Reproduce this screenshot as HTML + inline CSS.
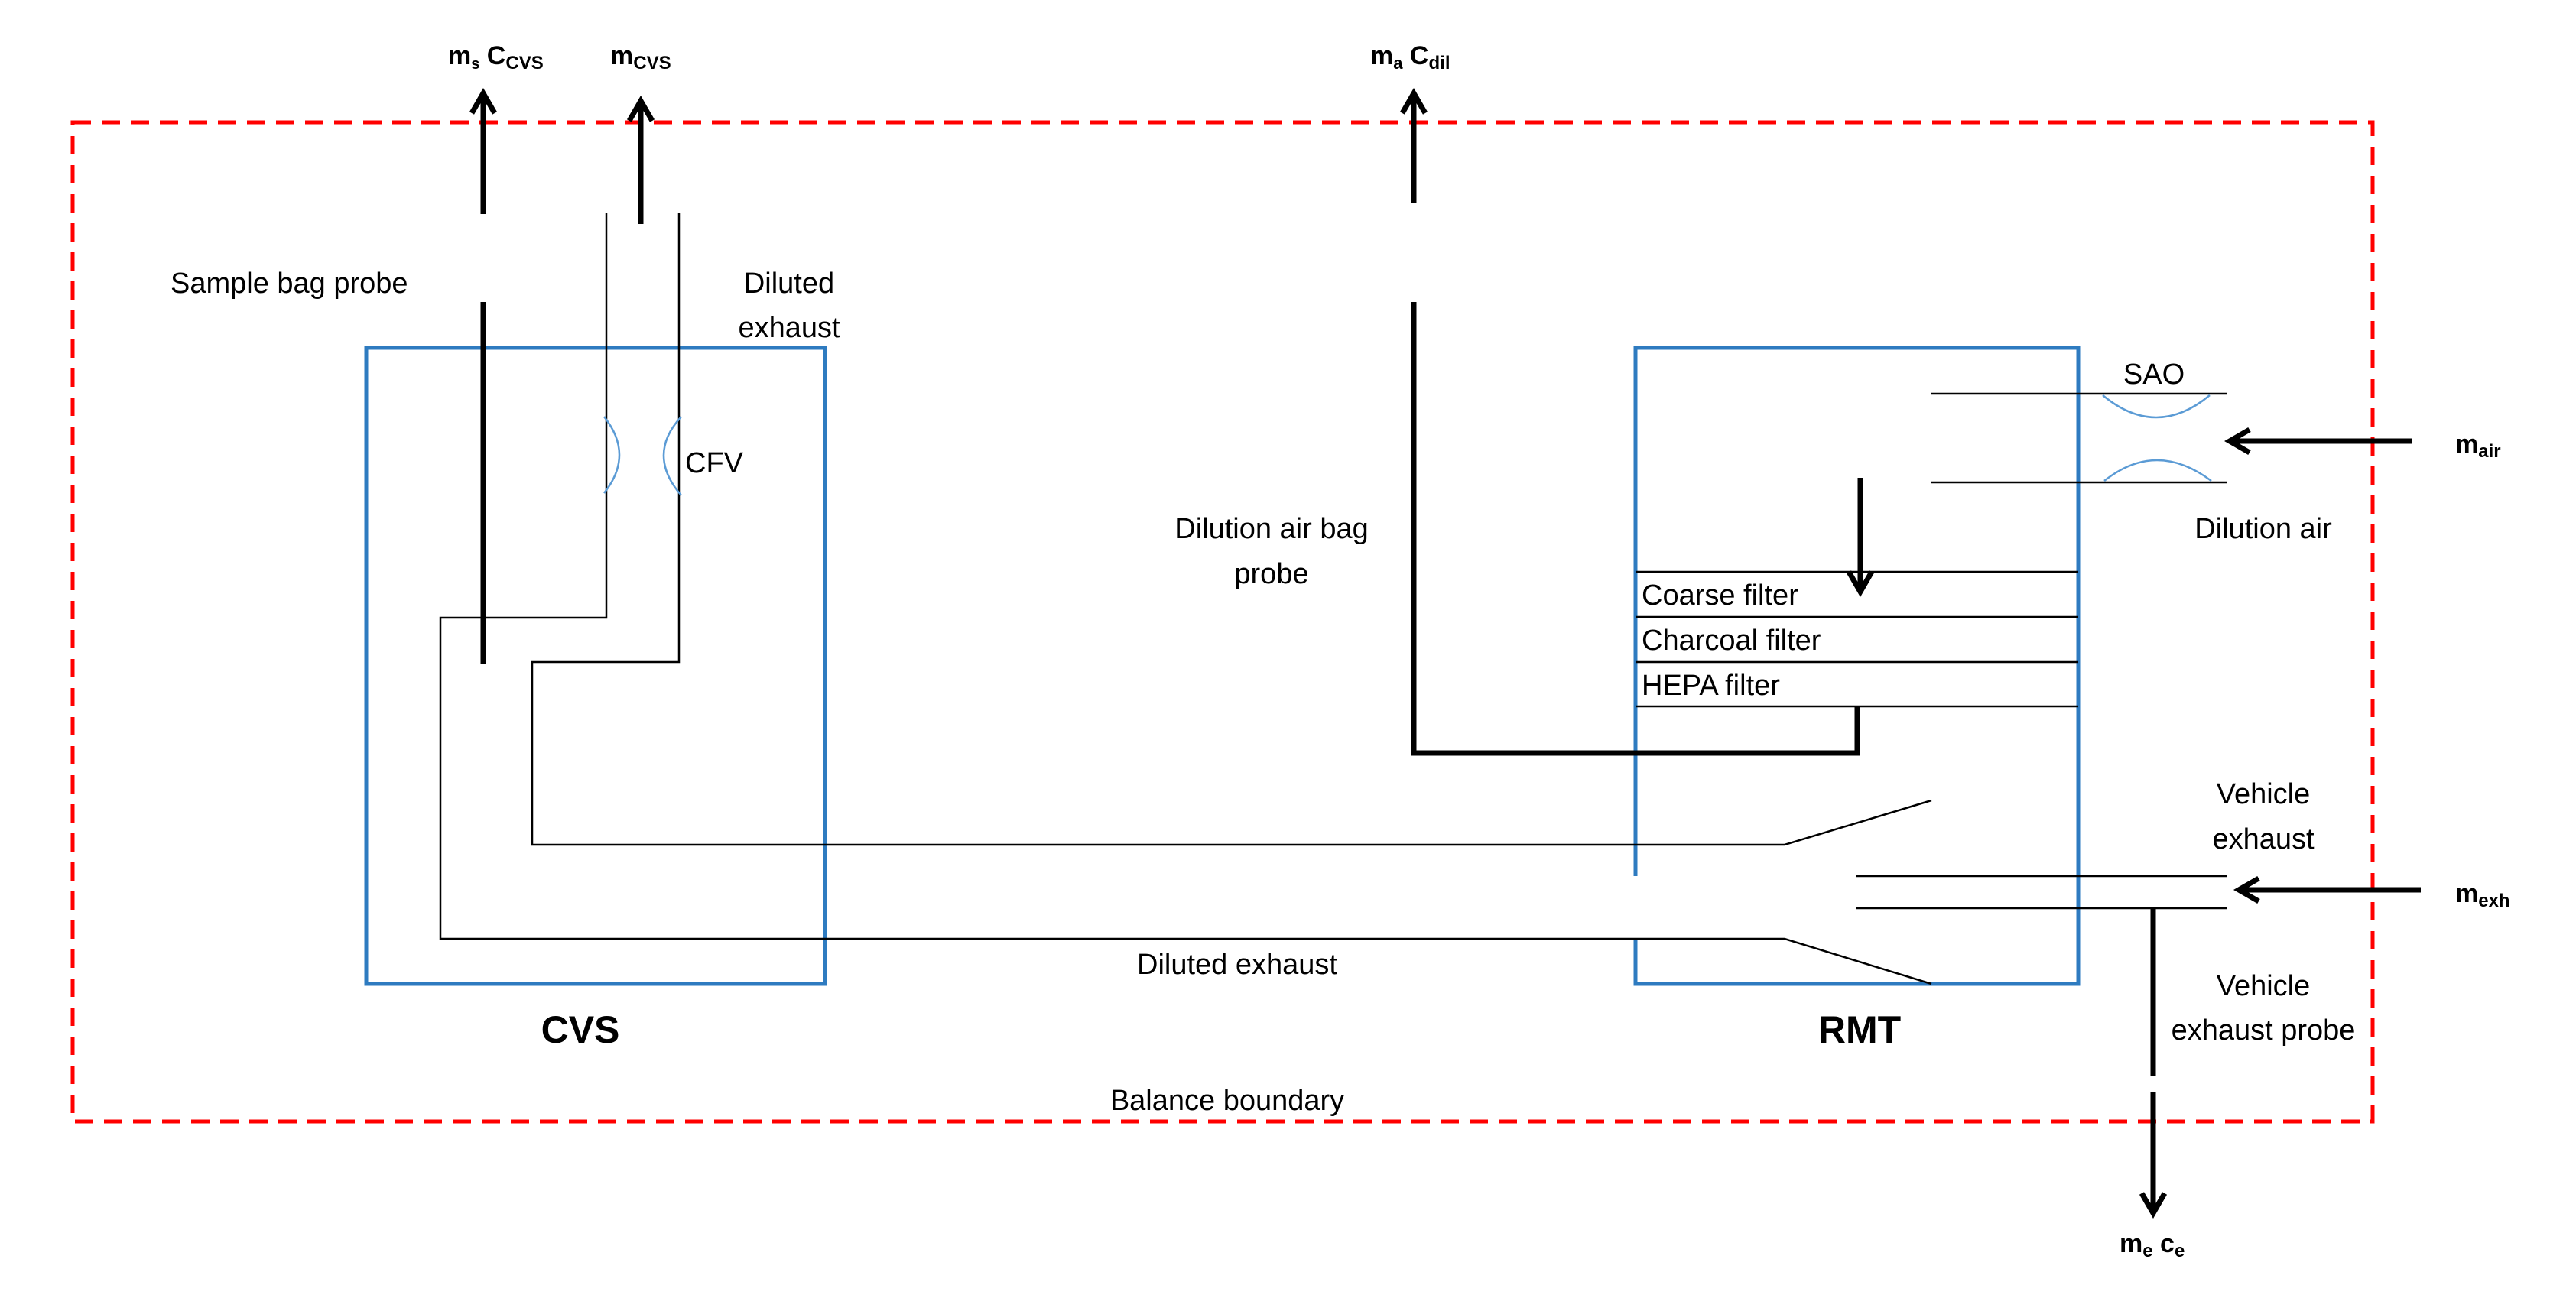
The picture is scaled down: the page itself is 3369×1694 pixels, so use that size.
<!DOCTYPE html>
<html><head><meta charset="utf-8"><style>
html,body{margin:0;padding:0;background:#fff}
svg{display:block}
text{font-family:"Liberation Sans",sans-serif;fill:#000}
.t{font-size:38px}
.b{font-weight:bold}
</style></head><body>
<svg width="3369" height="1694" viewBox="0 0 3369 1694" xmlns="http://www.w3.org/2000/svg">
<rect x="95" y="160" width="3008" height="1307" fill="none" stroke="#f00" stroke-width="5" stroke-dasharray="24,14"/>
<rect x="479" y="455" width="600" height="832" fill="none" stroke="#2e7bc0" stroke-width="5"/>
<polyline points="2139,1146 2139,455 2718,455 2718,1287 2139,1287 2139,1228" fill="none" stroke="#2e7bc0" stroke-width="5"/>
<g fill="none" stroke="#000" stroke-width="2.5">
<polyline points="793,278 793,808 576,808 576,1228 2334,1228 2526,1287"/>
<polyline points="888,278 888,866 696,866 696,1105 2334,1105 2526,1047"/>
<line x1="2139" y1="748" x2="2718" y2="748"/>
<line x1="2139" y1="807" x2="2718" y2="807"/>
<line x1="2139" y1="866" x2="2718" y2="866"/>
<line x1="2139" y1="924" x2="2718" y2="924"/>
<line x1="2525" y1="515" x2="2913" y2="515"/>
<line x1="2525" y1="631" x2="2913" y2="631"/>
<line x1="2428" y1="1146" x2="2913" y2="1146"/>
<line x1="2428" y1="1188" x2="2913" y2="1188"/>
</g>
<g fill="none" stroke="#5b9bd5" stroke-width="2.5">
<path d="M790,545 Q830,595 790,645"/>
<path d="M891,545 Q845,595 891,648"/>
<path d="M2750,517 Q2820,575 2890,517"/>
<path d="M2752,629 Q2820,575 2892,629"/>
</g>
<g fill="none" stroke="#000" stroke-width="7">
<line x1="632" y1="395" x2="632" y2="868"/>
<line x1="632" y1="280" x2="632" y2="124"/>
<polyline points="617,148 632,122 647,148"/>
<line x1="838" y1="293" x2="838" y2="134"/>
<polyline points="823,158 838,132 853,158"/>
<line x1="1849" y1="266" x2="1849" y2="124"/>
<polyline points="1834,148 1849,122 1864,148"/>
<polyline points="1849,395 1849,985 2429,985 2429,924"/>
<line x1="2433" y1="625" x2="2433" y2="772"/>
<polyline points="2418,748 2433,774 2448,748"/>
<line x1="3155" y1="577" x2="2918" y2="577"/>
<polyline points="2942,562 2916,577 2942,592"/>
<line x1="3166" y1="1164" x2="2930" y2="1164"/>
<polyline points="2954,1149 2928,1164 2954,1179"/>
<line x1="2816" y1="1188" x2="2816" y2="1407"/>
<line x1="2816" y1="1429" x2="2816" y2="1585"/>
<polyline points="2801,1561 2816,1587 2831,1561"/>
</g>
<g class="t">
<text x="223" y="383">Sample bag probe</text>
<text x="1032" y="383" text-anchor="middle">Diluted</text>
<text x="1032" y="441" text-anchor="middle">exhaust</text>
<text x="896" y="618">CFV</text>
<text x="1663" y="704" text-anchor="middle">Dilution air bag</text>
<text x="1663" y="763" text-anchor="middle">probe</text>
<text x="1618" y="1274" text-anchor="middle">Diluted exhaust</text>
<text x="1605" y="1452" text-anchor="middle">Balance boundary</text>
<text x="2147" y="791">Coarse filter</text>
<text x="2147" y="850">Charcoal filter</text>
<text x="2147" y="909">HEPA filter</text>
<text x="2817" y="502" text-anchor="middle">SAO</text>
<text x="2960" y="704" text-anchor="middle">Dilution air</text>
<text x="2960" y="1051" text-anchor="middle">Vehicle</text>
<text x="2960" y="1110" text-anchor="middle">exhaust</text>
<text x="2960" y="1302" text-anchor="middle">Vehicle</text>
<text x="2960" y="1360" text-anchor="middle">exhaust probe</text>
</g>
<text x="759" y="1364" text-anchor="middle" class="b" font-size="50">CVS</text>
<text x="2432" y="1364" text-anchor="middle" class="b" font-size="50">RMT</text>
<g class="b" font-size="34">
<text x="586" y="84">m<tspan font-size="20" dy="6">s</tspan><tspan dy="-6"> C</tspan><tspan font-size="24" dy="6">CVS</tspan></text>
<text x="798" y="84">m<tspan font-size="24" dy="6">CVS</tspan></text>
<text x="1792" y="84">m<tspan font-size="22" dy="6">a</tspan><tspan dy="-6"> C</tspan><tspan font-size="24" dy="6">dil</tspan></text>
<text x="3211" y="592">m<tspan font-size="24" dy="6">air</tspan></text>
<text x="3211" y="1180">m<tspan font-size="24" dy="6">exh</tspan></text>
<text x="2772" y="1638">m<tspan font-size="24" dy="6">e</tspan><tspan dy="-6"> c</tspan><tspan font-size="24" dy="6">e</tspan></text>
</g>
</svg>
</body></html>
